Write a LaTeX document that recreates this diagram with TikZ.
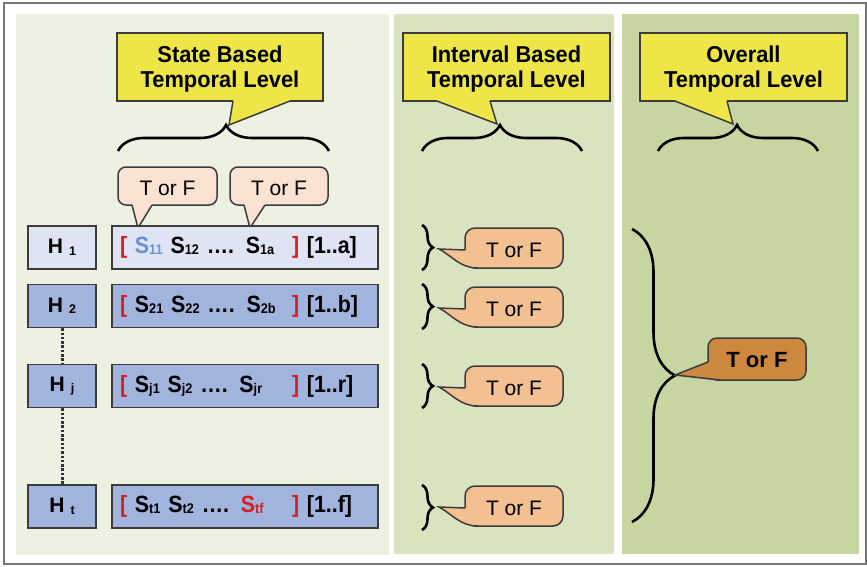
\documentclass[tikz,border=0pt]{standalone}
\usepackage{fontspec}
\setmainfont{Liberation Sans}
\newfontfamily\ycond[FakeStretch=0.95]{Liberation Sans}
\newfontfamily\rcond[FakeStretch=0.91]{Liberation Sans}
\usetikzlibrary{decorations.pathreplacing,calc}
\definecolor{pA}{RGB}{237,241,225}
\definecolor{pB}{RGB}{218,227,192}
\definecolor{pC}{RGB}{199,214,161}
\definecolor{yel}{RGB}{238,230,70}
\definecolor{peachL}{RGB}{250,226,210}
\definecolor{peachM}{RGB}{242,192,145}
\definecolor{orng}{RGB}{205,135,62}
\definecolor{blueL}{RGB}{222,228,243}
\definecolor{blueM}{RGB}{160,180,222}
\definecolor{bord}{RGB}{60,60,60}
\definecolor{frame}{RGB}{120,120,120}
\definecolor{sblue}{RGB}{105,145,215}
\definecolor{sred}{RGB}{215,30,30}
\newcommand\sub[1]{\raisebox{-0.06em}{\fontsize{14}{14}\selectfont #1}}
\newcommand\hsub[1]{\hspace{6pt}\raisebox{-1.5pt}{\fontsize{12.5}{12}\selectfont #1}}
\newcommand\ctail[6]{%
  \fill[#6] (#4) -- (#1) -- (#2) -- (#3) -- (#5) -- cycle;
  \draw[bordline] (#1) -- (#2) -- (#3);}
\newcommand\itail[1]{%
  \fill[peachM] (470,#1+2) -- (465,#1+2) -- (439,#1+1) .. controls (452,#1+8) and (460,#1+20) .. (478,#1+20) -- (478,#1+15) -- cycle;
  \draw[bordline] (465,#1+2) -- (439,#1+1) .. controls (452,#1+8) and (460,#1+20) .. (478,#1+20);}
\tikzset{
  bordline/.style={draw=bord, line width=1.5pt, line join=miter},
  yelbox/.style={rectangle, fill=yel, bordline, minimum width=206pt, minimum height=68pt,
    align=center, inner sep=0pt, font=\ycond\fontsize{23}{25}\selectfont\bfseries},
  tftext/.style={inner sep=0pt, yshift=-2pt},
  tfL/.style={rectangle, rounded corners=8pt, fill=peachL, bordline, minimum width=99pt,
    minimum height=38pt, inner sep=0pt, font=\fontsize{21}{24}\selectfont},
  tfM/.style={rectangle, rounded corners=10pt, fill=peachM, bordline, minimum width=98pt,
    minimum height=40pt, inner sep=0pt, font=\fontsize{21}{24}\selectfont},
  tfD/.style={rectangle, rounded corners=9pt, fill=orng, bordline, minimum width=98pt,
    minimum height=42pt, inner sep=0pt, font=\fontsize{22}{24}\selectfont\bfseries},
  hbox/.style={rectangle, bordline, minimum width=68pt, minimum height=43pt, inner sep=0pt,
    font=\fontsize{21}{24}\selectfont\bfseries},
  rowbox/.style={rectangle, bordline, text width=250pt, inner xsep=8pt, inner ysep=0pt,
    minimum height=43pt, align=left, font=\rcond\fontsize{23.5}{26}\selectfont\bfseries},
  brc/.style 2 args={decorate, decoration={brace, amplitude=#1, aspect=#2}, line width=2.6pt, draw=black},
  dotline/.style={draw=black!80, line width=3pt, dash pattern=on 2.5pt off 1.8pt}
}
\begin{document}
\begin{tikzpicture}[x=1pt,y=-1pt]
\useasboundingbox (0,0) rectangle (867,567);
\fill[white] (0,0) rectangle (867,567);
\draw[frame, line width=2.2pt] (4,3) rectangle (866,564);
% panels
\fill[pA] (16,14) rectangle (389,555);
\fill[pB] (394,14) rectangle (614,554);
\fill[pC] (622,14) rectangle (859,554);

% header callouts
\node[yelbox] (y1) at (220,67) {};
\ctail{233,101}{229,125}{290,101}{233,97}{290,97}{yel}
\node[yelbox, minimum width=207pt] (y2) at (506.5,67) {};
\ctail{437,101}{497,124}{490,101}{437,97}{490,97}{yel}
\node[yelbox, minimum width=207pt] (y3) at (743.5,67) {};
\ctail{675,101}{733,124}{727,101}{675,97}{727,97}{yel}
\node[yelbox, draw=none, fill=none, yshift=-2.5pt] (y1t) at (y1) {State Based\\Temporal Level};
\node[yelbox, draw=none, fill=none, yshift=-2.5pt] (y2t) at (y2) {Interval Based\\Temporal Level};
\node[yelbox, draw=none, fill=none, yshift=-2.5pt] (y3t) at (y3) {Overall\\Temporal Level};

% top braces
\draw[brc={26pt}{0.512}] (118,151) -- (329,151);
\draw[brc={26pt}{0.4875}] (422,151) -- (582,151);
\draw[brc={26pt}{0.494}] (658,151) -- (818,151);

% state-level T or F callouts
\node[tfL] (sa) at (167.5,186) {};
\ctail{132,205}{138,228}{152,205}{132,201}{152,201}{peachL}
\node[tfL, minimum width=98pt] (sb) at (279,186) {};
\ctail{244,205}{250,228}{265,205}{244,201}{265,201}{peachL}
\node[tfL, tftext, draw=none, fill=none] at (sa) {T or F};
\node[tfL, tftext, draw=none, fill=none] at (sb) {T or F};

% H boxes
\node[hbox, fill=blueL] (h1) at (62,247.5) {H\hsub{1}};
\node[hbox, fill=blueM] (h2) at (62,306) {H\hsub{2}};
\node[hbox, fill=blueM] (hj) at (62,386) {H\hsub{j}};
\node[hbox, fill=blueM] (ht) at (62,506.5) {H\hsub{t}};
\draw[dotline] (h2.south) -- (hj.north);
\draw[dotline] (hj.south) -- (ht.north);

% rows
\node[rowbox, fill=blueL] (r1) at (245,247.5) {\makebox[172pt][l]{\textcolor{sred}{[}\ \textcolor{sblue}{S\sub{11}}\ S\sub{12}\ …. S\sub{1a}}\textcolor{sred}{]}\ [1..a]};
\node[rowbox, fill=blueM] (r2) at (245,306) {\makebox[172pt][l]{\textcolor{sred}{[}\ S\sub{21}\ S\sub{22}\ …. S\sub{2b}}\textcolor{sred}{]}\ [1..b]};
\node[rowbox, fill=blueM] (rj) at (245,386) {\makebox[172pt][l]{\textcolor{sred}{[}\ S\sub{j1}\ S\sub{j2}\ …. S\sub{jr}}\textcolor{sred}{]}\ [1..r]};
\node[rowbox, fill=blueM] (rt) at (245,506.5) {\makebox[172pt][l]{\textcolor{sred}{[}\ S\sub{t1}\ S\sub{t2}\ …. \textcolor{sred}{S\sub{tf}}}\textcolor{sred}{]}\ [1..f]};

% interval-level braces and callouts
\draw[brc={11pt}{0.5}] (422,225) -- (422,270);
\node[tfM] (i1) at (514,248) {};
\itail{248}
\draw[brc={11pt}{0.5}] (422,284) -- (422,329);
\node[tfM] (i2) at (514,307) {};
\itail{307}
\draw[brc={11pt}{0.5}] (422,364) -- (422,408);
\node[tfM] (ij) at (514,386) {};
\itail{386}
\draw[brc={11pt}{0.5}] (422,485) -- (422,530);
\node[tfM] (it) at (514,506) {};
\itail{506}
\foreach \n in {i1,i2,ij,it} {\node[tfM, tftext, draw=none, fill=none] at (\n) {T or F};}

% overall
\draw[brc={43pt}{0.5}] (632,229) -- (632,522);
\node[tfD] (ov) at (757,359) {};
\ctail{708,362}{675,375}{720,380}{712,362}{720,376}{orng}
\node[tfD, draw=none, fill=none, yshift=-1pt] at (ov) {T or F};
\end{tikzpicture}
\end{document}
